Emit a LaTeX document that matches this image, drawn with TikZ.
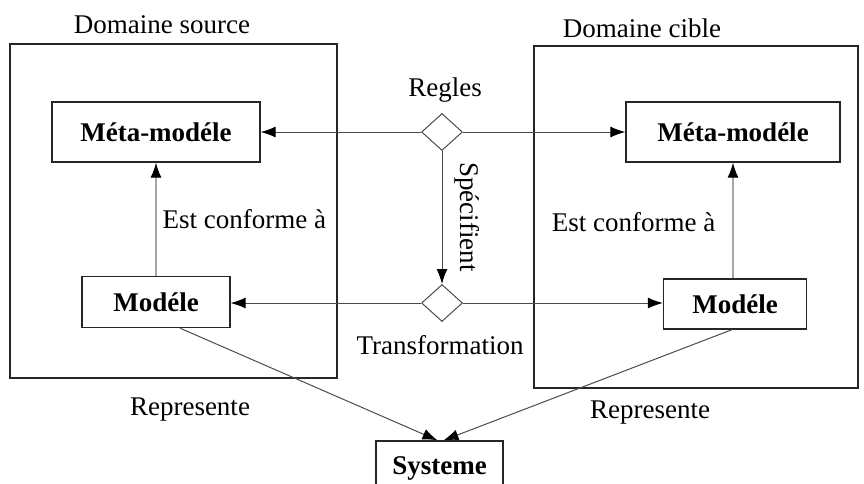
\documentclass[tikz,border=0pt]{standalone}
\usepackage{fontspec}
\setmainfont{Liberation Serif}
\usetikzlibrary{arrows.meta,shapes.geometric}
\begin{document}
\begin{tikzpicture}[x=1pt,y=-1pt,line width=1pt,
  every node/.style={font=\fontsize{27}{32}\selectfont,inner sep=1pt},
  dombox/.style={draw=black!85,line width=1.3pt,inner sep=0pt},
  modbox/.style={draw=black!85,line width=1.3pt,font=\fontsize{27}{32}\selectfont\bfseries,inner sep=0pt},
  rulebox/.style={diamond,draw=black!70,line width=1pt,fill=white,minimum width=41pt,minimum height=37pt,inner sep=0pt},
  link/.style={draw=black!70,-{Latex[length=15pt,width=11pt,color=black]}},
  conf/.style={draw=black!35,line width=1.2pt,-{Latex[length=15pt,width=11pt,color=black]}}]
\useasboundingbox (0,0) rectangle (864,483);
\node[dombox,minimum width=327pt,minimum height=334pt] (srcdom) at (173.5,211) {};
\node[dombox,minimum width=324pt,minimum height=342pt] (tgtdom) at (696,217) {};
\node (srctitle) at (162,25) {Domaine source};
\node (tgttitle) at (642,28) {Domaine cible};
\node[modbox,minimum width=208pt,minimum height=60pt] (srcmeta) at (156,132) {Méta-modéle};
\node[modbox,minimum width=214pt,minimum height=60pt] (tgtmeta) at (733,132) {Méta-modéle};
\node[modbox,minimum width=148pt,minimum height=51pt] (srcmod) at (156,302) {Modéle};
\node[modbox,minimum width=143pt,minimum height=50pt] (tgtmod) at (735,304) {Modéle};
\node[modbox,minimum width=127pt,minimum height=54pt] (sys) at (439.5,468) {Systeme};
\node[rulebox] (rules) at (442,132) {};
\node[rulebox] (trans) at (442,303) {};
\node (rulestext) at (445,90) {Regles};
\node (transtext) at (440,345) {Transformation};
\node[rotate=-90] (spectext) at (467,217) {Spécifient};
\draw[link] (rules) -- (srcmeta);
\draw[link] (rules) -- (tgtmeta);
\draw[link] (rules) -- (trans);
\draw[link] (trans) -- (srcmod.east |- trans);
\draw[link] (trans) -- (tgtmod.west |- trans);
\draw[conf] (srcmod) -- node[right=5pt] {Est conforme à} (srcmeta);
\draw[conf] (tgtmod.north -| tgtmeta) -- node[left=16pt,yshift=-2pt] {Est conforme à} (tgtmeta);
\draw[link] ([xshift=24pt]srcmod.south) -- ([xshift=-2pt]sys.north);
\draw[link] ([xshift=-3pt]tgtmod.south) -- ([xshift=4pt]sys.north);
\node (srcrep) at (190,410) {Represente};
\node (tgtrep) at (650,413) {Represente};
\end{tikzpicture}
\end{document}
